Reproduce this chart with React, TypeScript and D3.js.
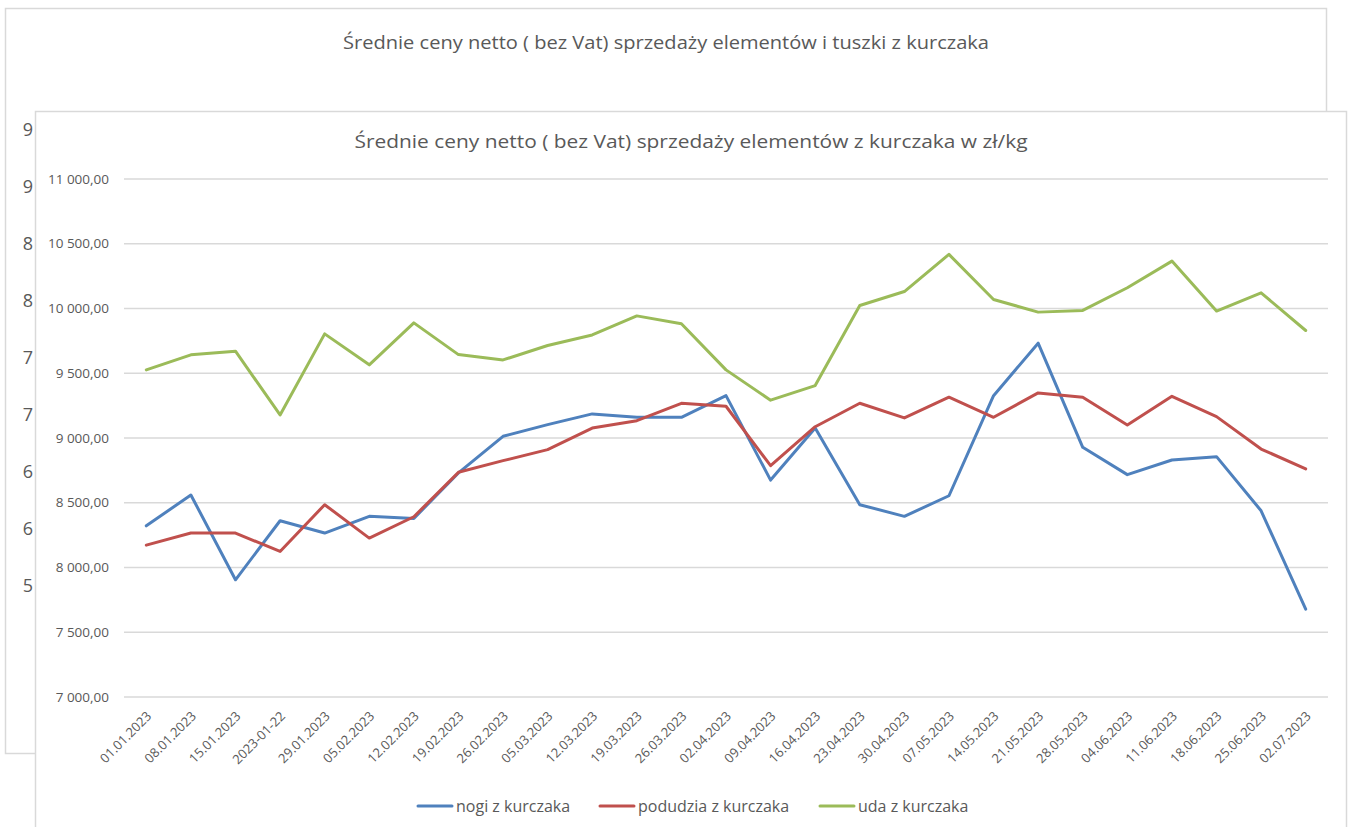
import React from "react";
import * as d3 from "d3";

const categories = [
  "01.01.2023", "08.01.2023", "15.01.2023", "2023-01-22", "29.01.2023", "05.02.2023", "12.02.2023",
  "19.02.2023", "26.02.2023", "05.03.2023", "12.03.2023", "19.03.2023", "26.03.2023", "02.04.2023",
  "09.04.2023", "16.04.2023", "23.04.2023", "30.04.2023", "07.05.2023", "14.05.2023", "21.05.2023",
  "28.05.2023", "04.06.2023", "11.06.2023", "18.06.2023", "25.06.2023", "02.07.2023",
];

const nogi = [
  8322, 8560, 7905, 8361, 8266, 8395, 8379, 8730, 9013, 9103, 9186, 9160, 9160, 9327,
  8675, 9077, 8485, 8395, 8554, 9327, 9732, 8928, 8717, 8830, 8856, 8438, 7678,
];
const podudzia = [
  8173, 8266, 8266, 8124, 8485, 8227, 8392, 8735, 8825, 8910, 9077, 9134, 9268, 9245,
  8786, 9087, 9268, 9155, 9315, 9160, 9348, 9315, 9101, 9322, 9165, 8915, 8761,
];
const uda = [
  9526, 9642, 9670, 9178, 9804, 9565, 9889, 9644, 9603, 9714, 9796, 9943, 9882, 9526,
  9292, 9405, 10023, 10131, 10418, 10070, 9972, 9985, 10160, 10366, 9980, 10121, 9830,
];

const seriesNames = ["nogi z kurczaka", "podudzia z kurczaka", "uda z kurczaka"];
const seriesColors = ["#4F81BD", "#C0504D", "#9BBB59"];

const yTicks = [7000, 7500, 8000, 8500, 9000, 9500, 10000, 10500, 11000];
const backAxisLabels = ["9", "9", "8", "8", "7", "7", "6", "6", "5"];

const backTitle = "Średnie ceny netto ( bez Vat) sprzedaży elementów i tuszki z kurczaka";
const frontTitle = "Średnie ceny netto ( bez Vat) sprzedaży elementów z kurczaka w zł/kg";

const FONT = "'Open Sans', 'Noto Sans', sans-serif";
const TEXT = "#595959";
const GRID = "#D9D9D9";

const plLocale = d3.formatLocale({
  decimal: ",",
  thousands: "\u00a0",
  grouping: [3],
  currency: ["", " zł"],
});
const fmt = plLocale.format(",.2f");

export default function App() {
  const x = d3.scaleBand<string>().domain(categories).range([124, 1328]);
  const cx = (c: string) => (x(c) as number) + x.bandwidth() / 2;
  const y = d3.scaleLinear().domain([7000, 11000]).range([697, 179]);
  const backY = d3
    .scalePoint<number>()
    .domain(backAxisLabels.map((_, i) => i))
    .range([130, 586]);

  const allSeries = [nogi, podudzia, uda];
  const line = d3
    .line<number>()
    .x((_, i) => cx(categories[i]))
    .y((v) => y(v));

  const legendX = d3.scaleOrdinal<string, number>().domain(seriesNames).range([418, 600, 820]);

  return (
    <svg
      width={1351}
      height={827}
      style={{ position: "absolute", left: 0, top: 0, background: "#fff" }}
      fontFamily={FONT}
    >
      <rect x={0} y={0} width={1351} height={827} fill="#fff" />
      {/* back chart */}
      <rect x={5.5} y={8.5} width={1321} height={745} fill="#fff" stroke={GRID} strokeWidth={1.5} />
      <text
        x={666}
        y={49}
        textAnchor="middle"
        fontSize={19}
        fill={TEXT}
        textLength={646}
        lengthAdjust="spacingAndGlyphs"
      >
        {backTitle}
      </text>
      {backAxisLabels.map((l, i) => (
        <text key={i} x={33} y={backY(i)} dy="0.36em" textAnchor="end" fontSize={18} fill={TEXT}>
          {l}
        </text>
      ))}

      {/* front chart */}
      <rect x={35.5} y={111.5} width={1311} height={730} fill="#fff" stroke={GRID} strokeWidth={1.5} />
      <text
        x={691}
        y={148}
        textAnchor="middle"
        fontSize={19}
        fill={TEXT}
        textLength={673}
        lengthAdjust="spacingAndGlyphs"
      >
        {frontTitle}
      </text>

      {yTicks.map((t) => (
        <g key={t}>
          <line x1={124} x2={1328} y1={y(t)} y2={y(t)} stroke={GRID} strokeWidth={1.3} />
          <text x={109} y={y(t)} dy="0.35em" textAnchor="end" fontSize={13.5} fill={TEXT}>
            {fmt(t)}
          </text>
        </g>
      ))}

      {categories.map((c) => (
        <text
          key={c}
          transform={`translate(${cx(c) + 6},${717}) rotate(-45)`}
          textAnchor="end"
          fontSize={13}
          fill={TEXT}
        >
          {c}
        </text>
      ))}

      {allSeries.map((s, k) => (
        <path
          key={k}
          d={line(s) || ""}
          fill="none"
          stroke={seriesColors[k]}
          strokeWidth={3}
          strokeLinejoin="round"
          strokeLinecap="round"
        />
      ))}

      {seriesNames.map((n, k) => (
        <g key={n} transform={`translate(${legendX(n)},${806})`}>
          <line x1={0} x2={34} y1={0} y2={0} stroke={seriesColors[k]} strokeWidth={3} strokeLinecap="round" />
          <text x={38} y={0} dy="0.35em" fontSize={16} fill={TEXT}>
            {n}
          </text>
        </g>
      ))}
    </svg>
  );
}
